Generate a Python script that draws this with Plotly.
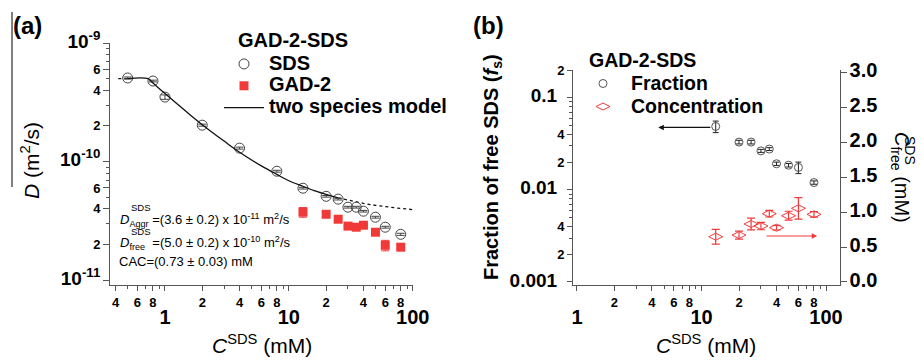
import math
import plotly.graph_objects as go

# ---------------- data: panel (a) ----------------
c_sds = [0.5, 0.8, 1, 2, 4, 8, 13, 20, 25, 30, 35, 40, 50, 60, 80]
d_sds = [5.07e-10, 4.78e-10, 3.5e-10, 2.03e-10, 1.3e-10, 8.3e-11, 5.97e-11, 5.1e-11,
         4.83e-11, 4.13e-11, 4.13e-11, 3.82e-11, 3.4e-11, 2.8e-11, 2.44e-11]
d_sds_err = [0.1e-10, 0.08e-10, 0.15e-10, 0.04e-10, 0.025e-10, 0.15e-11, 0.1e-11, 0.08e-11,
             0.08e-11, 0.07e-11, 0.07e-11, 0.06e-11, 0.06e-11, 0.05e-11, 0.05e-11]

c_gad = [13, 20, 25, 30, 35, 40, 50, 60, 80]
d_gad = [3.75e-11, 3.6e-11, 3.27e-11, 2.86e-11, 2.8e-11, 2.91e-11, 2.54e-11, 1.97e-11, 1.9e-11]
d_gad_err = [0.35e-11, 0.05e-11, 0.05e-11, 0.05e-11, 0.05e-11, 0.05e-11, 0.05e-11, 0.2e-11, 0.05e-11]

# two species model curve
model_c_solid = [0.5, 0.73, 0.8, 1, 1.5, 2, 3, 4, 6, 8, 10, 13, 16, 20, 25]
model_d_solid = [5.0e-10, 5.0e-10, 4.6e-10, 3.75e-10, 2.62e-10, 2.05e-10, 1.49e-10, 1.2e-10,
                 9.2e-11, 7.8e-11, 6.9e-11, 6.2e-11, 5.7e-11, 5.3e-11, 4.95e-11]
model_c_dash_low = [0.42, 0.5]
model_d_dash_low = [5.0e-10, 5.0e-10]
model_c_dash_high = [25, 30, 40, 50, 60, 80, 100]
model_d_dash_high = [4.95e-11, 4.73e-11, 4.45e-11, 4.28e-11, 4.17e-11, 4.03e-11, 3.94e-11]

# ---------------- data: panel (b) ----------------
c_b = [13, 20, 25, 30, 35, 40, 50, 60, 80]
fraction = [0.0488, 0.033, 0.033, 0.0265, 0.0277, 0.0192, 0.0185, 0.0175, 0.012]
fraction_err = [0.007, 0.0015, 0.0015, 0.001, 0.001, 0.0008, 0.0008, 0.0025, 0.0005]
conc = [0.647, 0.671, 0.829, 0.8, 0.976, 0.776, 0.947, 1.053, 0.967]
conc_err = [0.105, 0.057, 0.083, 0.053, 0.047, 0.033, 0.064, 0.154, 0.04]

# ---------------- tick labels ----------------
xa_major = [1, 10, 100]
xa_minor_lab = [0.4, 0.6, 0.8, 2, 4, 6, 8, 20, 40, 60, 80]
xa_minor = [0.5, 0.7, 0.9, 3, 5, 7, 9, 30, 50, 70, 90]
ya_major = [1e-11, 1e-10, 1e-9]
ya_major_text = ["10<sup>-11</sup>", "10<sup>-10</sup>", "10<sup>-9</sup>"]
ya_minor_lab = [2e-11, 4e-11, 6e-11, 2e-10, 4e-10, 6e-10]
ya_minor = [3e-11, 5e-11, 7e-11, 8e-11, 9e-11, 3e-10, 5e-10, 7e-10, 8e-10, 9e-10]

xb_major = [1, 10, 100]
xb_minor_lab = [2, 4, 6, 8, 20, 40, 60, 80]
xb_minor = [3, 5, 7, 9, 30, 50, 70, 90]
yb_major = [0.001, 0.01, 0.1]
yb_major_text = ["0.001", "0.01", "0.1"]
yb_minor_lab = [0.002, 0.004, 0.02, 0.04, 0.2]
yb_minor = [0.003, 0.005, 0.006, 0.007, 0.008, 0.009, 0.03, 0.05, 0.06, 0.07, 0.08, 0.09]
yc_ticks = [0.0, 0.5, 1.0, 1.5, 2.0, 2.5, 3.0]

# ---------------- styles ----------------
W, H = 924, 363
FONT = "Arial, Liberation Sans, sans-serif"
RED = "#f03a3a"
AX = "#555555"


def px_x(p):
    return p / W


def px_y(p):
    return 1 - p / H


def leading_digit(v):
    return "<b>%d</b>" % round(v / 10 ** math.floor(math.log10(v)))


def x_major_txt(v):
    return "<br><span style='font-size:20px'><b>%g</b></span>" % v


fig = go.Figure()

# panel (a)
fig.add_trace(go.Scatter(
    x=model_c_dash_low, y=model_d_dash_low, mode="lines", xaxis="x", yaxis="y",
    line=dict(color="#111", width=1.3, dash="3px,3px"), showlegend=False, hoverinfo="skip"))
fig.add_trace(go.Scatter(
    x=model_c_dash_high, y=model_d_dash_high, mode="lines", xaxis="x", yaxis="y",
    line=dict(color="#111", width=1.3, dash="3px,3px"), showlegend=False, hoverinfo="skip"))
fig.add_trace(go.Scatter(
    x=c_sds, y=d_sds, mode="markers", xaxis="x", yaxis="y", name="<b><span style='font-size:20px'>SDS</span></b>",
    legend="legend",
    marker=dict(symbol="circle-open", size=10, color="#444", line=dict(width=1)),
    error_y=dict(type="data", array=d_sds_err, color="#444", thickness=1, width=4)))
fig.add_trace(go.Scatter(
    x=c_gad, y=d_gad, mode="markers", xaxis="x", yaxis="y", name="<b><span style='font-size:20px'>GAD-2</span></b>",
    legend="legend",
    marker=dict(symbol="square", size=9, color=RED),
    error_y=dict(type="data", array=d_gad_err, color=RED, thickness=1, width=4)))
fig.add_trace(go.Scatter(
    x=model_c_solid, y=model_d_solid, mode="lines", xaxis="x", yaxis="y", line_shape="spline",
    name="<b><span style='font-size:20px'>two species model</span></b>", legend="legend",
    line=dict(color="#111", width=1.3)))

# panel (b)
fig.add_trace(go.Scatter(
    x=c_b, y=fraction, mode="markers", xaxis="x2", yaxis="y2",
    name="<b><span style='font-size:19.5px'>Fraction</span></b>", legend="legend2",
    marker=dict(symbol="circle-open", size=8, color="#555", line=dict(width=1)),
    error_y=dict(type="data", array=fraction_err, color="#222", thickness=1, width=3)))
fig.add_trace(go.Scatter(
    x=c_b, y=conc, mode="markers", xaxis="x2", yaxis="y3",
    name="<b><span style='font-size:19.5px'>Concentration</span></b>", legend="legend2",
    marker=dict(symbol="diamond-wide-open", size=10, color=RED, line=dict(width=1)),
    error_y=dict(type="data", array=conc_err, color=RED, thickness=1.2, width=4)))

tick_common = dict(ticks="outside", showline=True, linecolor=AX, linewidth=1, tickcolor=AX,
                   showgrid=False, zeroline=False, automargin=False,
                   tickfont=dict(family=FONT, size=13, color="#000"))

fig.update_layout(
    width=W, height=H, margin=dict(l=0, r=0, t=0, b=0, autoexpand=False),
    paper_bgcolor="white", plot_bgcolor="white",
    font=dict(family=FONT, color="#000"),
    xaxis=dict(type="log", range=[math.log10(0.36), math.log10(100.5)],
               domain=[px_x(110), px_x(413)], anchor="y",
               tickmode="array", tickvals=xa_major + xa_minor_lab,
               ticktext=[x_major_txt(v) for v in xa_major] + [leading_digit(v) for v in xa_minor_lab],
               ticklen=5, minor=dict(tickvals=xa_minor, ticklen=3, tickcolor=AX, ticks="outside"),
               **tick_common),
    yaxis=dict(type="log", range=[-11.04, -9.0], domain=[px_y(285), px_y(43)], anchor="x",
               tickmode="array", tickvals=ya_major + ya_minor_lab,
               ticktext=["<span style='font-size:19px'><b>%s</b></span>" % t for t in ya_major_text]
               + [leading_digit(v) for v in ya_minor_lab],
               ticklen=6, minor=dict(tickvals=ya_minor, ticklen=3, tickcolor=AX, ticks="outside"),
               **tick_common),
    xaxis2=dict(type="log", range=[-0.032, 2.112], domain=[px_x(573), px_x(840)], anchor="y2",
                tickmode="array", tickvals=xb_major + xb_minor_lab,
                ticktext=[x_major_txt(v) for v in xb_major] + [leading_digit(v) for v in xb_minor_lab],
                ticklen=5, minor=dict(tickvals=xb_minor, ticklen=3, tickcolor=AX, ticks="outside"),
                **tick_common),
    yaxis2=dict(type="log", range=[-3.033, -0.699], domain=[px_y(285), px_y(70)], anchor="x2",
                tickmode="array", tickvals=yb_major + yb_minor_lab,
                ticktext=["<span style='font-size:19px'><b>%s</b></span>\u00a0\u00a0" % t for t in yb_major_text]
                + [leading_digit(v) for v in yb_minor_lab],
                ticklen=5, minor=dict(tickvals=yb_minor, ticklen=3, tickcolor=AX, ticks="outside"),
                **tick_common),
    yaxis3=dict(range=[-0.043, 3.03], overlaying="y2", side="right", anchor="x2",
                tickmode="array", tickvals=yc_ticks,
                ticktext=["<span style='font-size:20px'><b>%.1f</b></span>" % v for v in yc_ticks],
                ticklen=6, **tick_common),
    legend=dict(x=px_x(219), y=px_y(48), xanchor="left", yanchor="top",
                font=dict(family=FONT, size=14.5, color="#000"), itemwidth=40,
                bgcolor="rgba(0,0,0,0)", tracegroupgap=0),
    legend2=dict(x=px_x(575), y=px_y(67), xanchor="left", yanchor="top",
                 font=dict(family=FONT, size=15.4, color="#000"), itemwidth=46,
                 bgcolor="rgba(0,0,0,0)", tracegroupgap=0),
)

ann = []


def txt(x, y, text, size, **kw):
    d = dict(x=px_x(x), y=px_y(y), xref="paper", yref="paper", text=text, showarrow=False,
             font=dict(family=FONT, size=size, color="#000"), xanchor="left", yanchor="middle")
    d.update(kw)
    ann.append(d)


# panel labels
txt(11, 25, "<b>(a)</b>", 24)
txt(471, 25, "<b>(b)</b>", 24)
# legend titles
txt(236, 40, "<b>GAD-2-SDS</b>", 20)
txt(587, 60, "<b>GAD-2-SDS</b>", 19.5)
# parameter text
txt(118, 220, "<i>D</i><sub>Aggr</sub> =(3.6 ± 0.2) x 10<sup>-11</sup> m<sup>2</sup>/s", 13)
txt(129, 207, "SDS", 9.5)
txt(118, 243, "<i>D</i><sub>free</sub>  =(5.0 ± 0.2) x 10<sup>-10</sup> m<sup>2</sup>/s", 13)
txt(129, 231, "SDS", 9.5)
txt(117, 261, "CAC=(0.73 ± 0.03) mM", 13)
# axis titles
txt(262, 344, "<i>C</i><sup>SDS</sup> (mM)", 21, xanchor="center")
txt(706, 344, "<i>C</i><sup>SDS</sup> (mM)", 21, xanchor="center")
txt(30, 160, "<i>D</i> (m<sup>2</sup>/s)", 21, xanchor="center", textangle=-90)
txt(492, 167, "<b>Fraction of free SDS (<i>f</i><sub>s</sub>)</b>", 20, xanchor="center", textangle=-90)
txt(900, 177, "<i>C</i><sub>free</sub> (mM)", 20, xanchor="center", textangle=90)
txt(910, 150, "SDS", 14, xanchor="center", textangle=90)

# arrows (data coordinates, log axes use log10)
ann.append(dict(x=math.log10(4.5), y=math.log10(0.0476), ax=math.log10(12.1), ay=math.log10(0.0476),
                xref="x2", yref="y2", axref="x2", ayref="y2", showarrow=True, text="",
                arrowhead=2, arrowsize=1, arrowwidth=1.1, arrowcolor="#111"))
ann.append(dict(x=math.log10(85), y=0.657, ax=math.log10(32.4), ay=0.657,
                xref="x2", yref="y3", axref="x2", ayref="y3", showarrow=True, text="",
                arrowhead=2, arrowsize=1, arrowwidth=1.1, arrowcolor=RED))

fig.update_layout(annotations=ann)

# thin vertical frame line at far left
fig.add_shape(type="line", xref="paper", yref="paper", x0=px_x(12), x1=px_x(12),
              y0=px_y(12), y1=px_y(187), line=dict(color="#000", width=1))

fig.write_html("out.html", config={"responsive": False, "displayModeBar": False},
               post_script="document.body.style.margin='0';document.body.style.padding='0';"
                           "document.body.style.overflow='hidden';")
